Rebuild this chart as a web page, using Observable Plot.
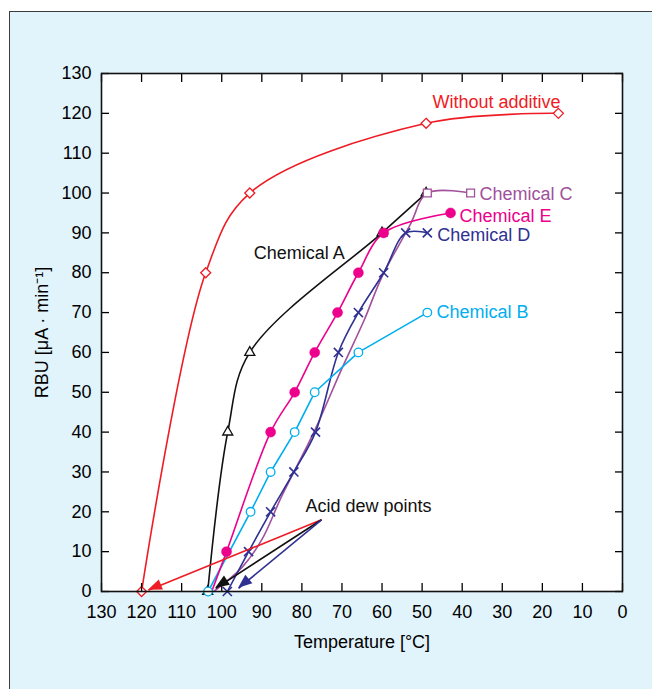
<!DOCTYPE html>
<html><head><meta charset="utf-8">
<script src="https://cdn.jsdelivr.net/npm/d3@7"></script>
<script src="https://cdn.jsdelivr.net/npm/@observablehq/plot@0.6"></script>
<style>
html,body{margin:0;padding:0;background:#fff}
body{width:652px;height:689px;overflow:hidden;position:relative;font-family:"Liberation Sans",Arial,sans-serif}
#panel{position:absolute;left:9px;top:11px;width:700px;height:720px;background:#e1f3fb;border:1px solid #3c3c3c}
#chart{position:absolute;left:0;top:0}
</style></head><body><div id="panel"></div><div id="chart"></div>
<script>
// Tick values
const xTicks = [130,120,110,100,90,80,70,60,50,40,30,20,10,0];
const yTicks = [0,10,20,30,40,50,60,70,80,90,100,110,120,130];

// Series: temperature (°C) and RBU (µA·min⁻¹)
const withoutT = [120, 104, 93, 49, 16];
const withoutR = [0, 80, 100, 117.5, 120];

const chemAT = [103.5, 98.5, 93, 60, 49];
const chemAR = [0, 40, 60, 90, 100];

const chemBT = [103.4, 92.8, 87.8, 81.8, 76.8, 65.9, 48.7];
const chemBR = [0, 20, 30, 40, 50, 60, 70];

const chemCT = [102, 95, 90, 85, 77, 70, 64.5, 60, 53, 48.7, 37.9];
const chemCR = [0, 6, 13, 24, 40, 56, 68, 79, 92, 100, 100];
const chemCMarked = [48.7, 37.9];

const chemDT = [98.6, 93.3, 87.8, 82, 76.6, 70.9, 65.9, 59.6, 54.1, 48.7];
const chemDR = [0, 10, 20, 30, 40, 60, 70, 80, 90, 90];

const chemET = [102.5, 98.8, 87.8, 81.8, 76.8, 71.1, 65.9, 59.6, 42.9];
const chemER = [0, 10, 40, 50, 60, 70, 80, 90, 95];

// Labels
const labelText = ["Without additive","Chemical A","Chemical B","Chemical C","Chemical D","Chemical E","Acid dew points"];
const labelT = [47.4, 92, 46.4, 35.7, 46.2, 40.7, 79.1];
const labelR = [122.9, 84.8, 70, 99.8, 89.3, 94.1, 21.3];

// Acid dew point arrows
const arrowFromT = [75.1, 75.1, 75.1];
const arrowFromR = [18, 18, 18];
const arrowToT = [118.3, 101.5, 95.8];
const arrowToR = [0.3, 0.8, 0.8];

const RED = "#ee1c25", BLACK = "#111111", CYAN = "#00aeef", PURPLE = "#a1509c", NAVY = "#2e3192", MAGENTA = "#ec008c";
const labelColors = [RED, BLACK, CYAN, PURPLE, NAVY, MAGENTA, BLACK];
const arrowColors = [RED, BLACK, NAVY];

const rows = (T, R) => T.map((t, i) => ({t, r: R[i]}));
const wo = rows(withoutT, withoutR), A = rows(chemAT, chemAR), B = rows(chemBT, chemBR),
      C = rows(chemCT, chemCR), D = rows(chemDT, chemDR), E = rows(chemET, chemER);
const labels = labelText.map((s, i) => ({s, t: labelT[i], r: labelR[i], c: labelColors[i]}));
const arrows = arrowFromT.map((t, i) => ({t1: t, r1: arrowFromR[i], t2: arrowToT[i], r2: arrowToR[i], c: arrowColors[i]}));

const lw = 1.6, mw = 1.3;
const plot = Plot.plot({
  width: 652, height: 689,
  marginLeft: 101, marginRight: 30, marginTop: 73, marginBottom: 98,
  x: {domain: [130, 0]},
  y: {domain: [0, 130]},
  style: {background: "transparent", fontFamily: "'Liberation Sans', Arial, sans-serif", fontSize: "18px", overflow: "visible"},
  marks: [
    Plot.frame({fill: "white", stroke: null}),
    Plot.line(wo, {x: "t", y: "r", stroke: RED, strokeWidth: lw, curve: "catmull-rom"}),
    Plot.line(A, {x: "t", y: "r", stroke: BLACK, strokeWidth: lw, curve: "catmull-rom"}),
    Plot.line(C, {x: "t", y: "r", stroke: PURPLE, strokeWidth: lw, curve: "catmull-rom"}),
    Plot.line(D, {x: "t", y: "r", stroke: NAVY, strokeWidth: lw, curve: "catmull-rom"}),
    Plot.line(B, {x: "t", y: "r", stroke: CYAN, strokeWidth: lw}),
    Plot.line(E, {x: "t", y: "r", stroke: MAGENTA, strokeWidth: lw, curve: "catmull-rom"}),
    Plot.dot(wo, {x: "t", y: "r", symbol: "diamond2", r: 4.5, stroke: RED, fill: "white", strokeWidth: mw}),
    Plot.dot(A, {x: "t", y: "r", symbol: "triangle2", r: 4.8, stroke: BLACK, fill: "white", strokeWidth: mw}),
    Plot.dot(C.filter(d => chemCMarked.includes(d.t)), {x: "t", y: "r", symbol: "square2", r: 5, stroke: PURPLE, fill: "white", strokeWidth: mw}),
    Plot.dot(D, {x: "t", y: "r", symbol: "times", r: 4.2, stroke: NAVY, strokeWidth: 1.6}),
    Plot.dot(B, {x: "t", y: "r", symbol: "circle", r: 4.3, stroke: CYAN, fill: "white", strokeWidth: mw}),
    Plot.dot(E.filter(d => d.r > 0), {x: "t", y: "r", symbol: "circle", r: 5, fill: MAGENTA, stroke: MAGENTA, strokeWidth: 0.5}),
    Plot.link(arrows, {x1: "t1", y1: "r1", x2: "t2", y2: "r2", stroke: "c", strokeWidth: lw}),
    Plot.text(labels, {x: "t", y: "r", text: "s", fill: "c", textAnchor: "start", lineAnchor: "middle", fontSize: 18}),
    Plot.axisX(xTicks, {anchor: "bottom", tickSize: 0, tickPadding: 14, fontSize: 18, label: null, tickFormat: d => String(d)}),
    Plot.axisY(yTicks, {anchor: "left", tickSize: 0, tickPadding: 10, fontSize: 18, label: null, tickFormat: d => String(d)}),
    Plot.axisX(xTicks, {anchor: "bottom", tickSize: -8, strokeWidth: 1.3, tickFormat: () => "", label: null}),
    Plot.axisX(xTicks, {anchor: "top", tickSize: -8, strokeWidth: 1.3, tickFormat: () => "", label: null}),
    Plot.axisY(yTicks, {anchor: "left", tickSize: -8, strokeWidth: 1.3, tickFormat: () => "", label: null}),
    Plot.axisY(yTicks, {anchor: "right", tickSize: -8, strokeWidth: 1.3, tickFormat: () => "", label: null}),
    Plot.text(["Temperature [°C]"], {frameAnchor: "bottom", dy: 44, lineAnchor: "top", fontSize: 18}),
    Plot.text(["RBU [μA · min⁻¹]"], {frameAnchor: "left", rotate: -90, dx: -54, lineAnchor: "bottom", textAnchor: "middle", fontSize: 18}),
    Plot.frame({stroke: "#111", strokeWidth: 1.6})
  ]
});

// Filled arrowheads, positioned through the plot's own scales
const sx = plot.scale("x"), sy = plot.scale("y");
const g = d3.select(plot).append("g");
const L = 14, W = 5.5;
arrows.forEach(a => {
  const x1 = sx.apply(a.t1), y1 = sy.apply(a.r1), x2 = sx.apply(a.t2), y2 = sy.apply(a.r2);
  const dx = x2 - x1, dy = y2 - y1, len = Math.hypot(dx, dy);
  const ux = dx / len, uy = dy / len, nx = -uy, ny = ux;
  const bx = x2 - ux * L, by = y2 - uy * L;
  g.append("polygon")
    .attr("points", `${x2},${y2} ${bx + nx * W},${by + ny * W} ${bx - nx * W},${by - ny * W}`)
    .attr("fill", a.c);
});

document.getElementById("chart").appendChild(plot);
</script>
</body></html>
